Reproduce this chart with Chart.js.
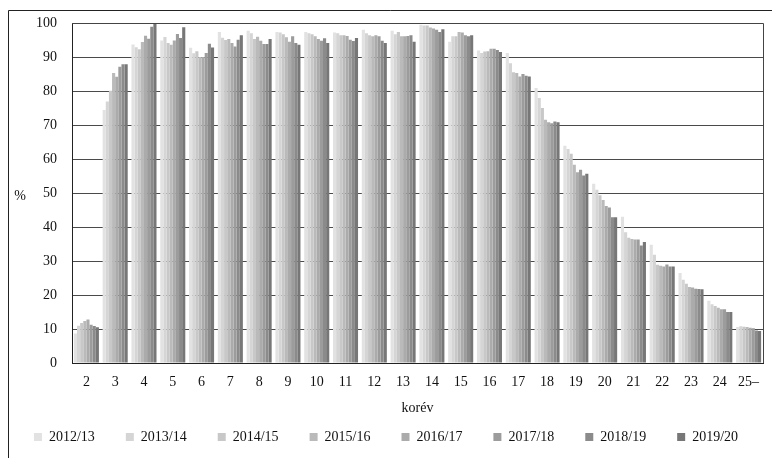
<!DOCTYPE html>
<html>
<head>
<meta charset="utf-8">
<script src="https://cdn.jsdelivr.net/npm/chart.js@4.4.1/dist/chart.umd.min.js"></script>
<style>
  html, body { margin: 0; padding: 0; background: #fff; }
  #wrap { width: 772px; height: 458px; position: relative; }
</style>
</head>
<body>
<div id="wrap"><canvas id="chart"></canvas></div>
<script>
// korév categories
const ageLabels = ['2', '3', '4', '5', '6', '7', '8', '9', '10', '11', '12', '13',
  '14', '15', '16', '17', '18', '19', '20', '21', '22', '23', '24', '25–'];

const yearLabels = ['2012/13', '2013/14', '2014/15', '2015/16', '2016/17', '2017/18', '2018/19', '2019/20'];

const y2012 = [8.7, 74.5, 93.8, 95.0, 92.8, 97.5, 97.8, 97.5, 97.5, 97.3, 98.1, 97.8, 99.6, 94.6, 92.0, 91.3, 81.0, 64.0, 52.8, 43.1, 34.8, 26.5, 18.3, 10.6];
const y2013 = [11.0, 77.0, 93.0, 96.0, 91.2, 95.8, 97.1, 97.3, 97.1, 97.1, 97.1, 96.8, 99.4, 96.2, 91.3, 88.3, 78.0, 63.0, 51.0, 38.5, 31.9, 24.5, 17.3, 10.8];
const y2014 = [11.8, 80.2, 92.4, 94.2, 91.8, 95.1, 95.4, 96.8, 96.8, 96.5, 96.5, 97.5, 99.4, 96.2, 91.7, 85.6, 75.1, 61.6, 49.4, 36.9, 28.9, 23.3, 16.8, 10.7];
const y2015 = [12.4, 85.4, 94.5, 93.7, 90.1, 95.4, 96.1, 95.9, 96.2, 96.5, 96.2, 96.2, 98.8, 97.5, 91.8, 85.4, 71.6, 58.4, 48.0, 36.5, 28.6, 22.4, 16.3, 10.6];
const y2016 = [12.8, 84.3, 96.4, 95.0, 90.1, 94.2, 94.9, 94.6, 95.4, 96.3, 96.5, 96.2, 98.5, 97.3, 92.5, 84.4, 70.9, 56.2, 46.2, 36.4, 28.4, 22.2, 15.8, 10.4];
const y2017 = [11.3, 87.2, 95.5, 96.9, 91.3, 93.2, 93.9, 96.2, 94.9, 95.2, 96.2, 96.3, 98.1, 96.5, 92.5, 85.1, 70.6, 56.9, 45.8, 36.4, 29.0, 21.9, 15.8, 10.2];
const y2018 = [10.9, 88.0, 99.0, 95.7, 94.0, 95.2, 93.9, 94.2, 95.6, 94.8, 94.9, 96.5, 97.5, 96.2, 92.2, 84.6, 71.1, 55.2, 42.9, 34.6, 28.4, 21.8, 15.0, 9.6];
const y2019 = [10.5, 88.0, 99.8, 98.9, 92.9, 96.5, 95.4, 93.7, 94.2, 95.7, 94.2, 94.6, 98.3, 96.5, 91.6, 84.4, 70.9, 55.7, 42.9, 35.6, 28.4, 21.7, 15.0, 9.4];

const yTicks = [0, 10, 20, 30, 40, 50, 60, 70, 80, 90, 100];

const grays = ['#e2e2e2', '#d5d5d5', '#c8c8c8', '#bababa', '#ababab', '#9c9c9c', '#8b8b8b', '#777777'];
const seriesValues = [y2012, y2013, y2014, y2015, y2016, y2017, y2018, y2019];

const serif = "'Liberation Serif', 'DejaVu Serif', serif";
const fontSize = 14;

// outer frame, plot box and the horizontal "%" label
const decorations = {
  id: 'decorations',
  beforeInit(chart) {
    // fixed legend height so the plot area lands where the original has it
    const legend = chart.legend;
    const origFit = legend.fit;
    legend.fit = function () {
      origFit.call(this);
      this.height = 59;
    };
  },
  afterDraw(chart) {
    const { ctx, chartArea } = chart;
    ctx.save();
    ctx.strokeStyle = '#222';
    ctx.lineWidth = 1;
    ctx.beginPath();
    ctx.moveTo(8.5, 458);
    ctx.lineTo(8.5, 10.5);
    ctx.lineTo(772, 10.5);
    ctx.stroke();

    ctx.strokeStyle = '#444';
    ctx.beginPath();
    ctx.moveTo(chartArea.left, Math.round(chartArea.top) + 0.5);
    ctx.lineTo(Math.round(chartArea.right) + 0.5, Math.round(chartArea.top) + 0.5);
    ctx.lineTo(Math.round(chartArea.right) + 0.5, chartArea.bottom);
    ctx.stroke();

    ctx.fillStyle = '#111';
    ctx.font = fontSize + 'px ' + serif;
    ctx.textAlign = 'center';
    ctx.textBaseline = 'middle';
    ctx.fillText('%', 20, (chartArea.top + chartArea.bottom) / 2 + 3);
    ctx.restore();
  }
};

new Chart(document.getElementById('chart'), {
  type: 'bar',
  data: {
    labels: ageLabels,
    datasets: yearLabels.map((name, i) => ({
      label: name,
      data: seriesValues[i],
      backgroundColor: grays[i],
      borderWidth: 0,
      categoryPercentage: 0.87,
      barPercentage: 1.0
    }))
  },
  options: {
    responsive: true,
    maintainAspectRatio: false,
    animation: false,
    devicePixelRatio: 1,
    layout: { padding: { top: 23, left: 0, right: 0, bottom: 0 } },
    plugins: {
      tooltip: { enabled: false },
      legend: {
        position: 'bottom',
        labels: {
          boxWidth: 8,
          boxHeight: 8,
          padding: 31,
          color: '#111',
          font: { family: serif, size: fontSize }
        }
      }
    },
    scales: {
      x: {
        grid: { display: false, drawTicks: false },
        border: { display: true, color: '#222', width: 1 },
        ticks: { padding: 11, color: '#111', font: { family: serif, size: fontSize }, maxRotation: 0, autoSkip: false },
        title: {
          display: true,
          text: 'korév',
          color: '#111',
          font: { family: serif, size: fontSize },
          padding: { top: 0, bottom: -18 }
        },
        afterFit(scale) { scale.height = 36; }
      },
      y: {
        min: 0,
        max: 100,
        afterBuildTicks(scale) { scale.ticks = yTicks.map(v => ({ value: v })); },
        grid: { color: '#4a4a4a', lineWidth: 1, drawTicks: false },
        border: { display: true, color: '#222', width: 1 },
        ticks: { padding: 15, color: '#111', font: { family: serif, size: fontSize } },
        afterFit(scale) { scale.width = 72; }
      },
      // empty spacer on the right so the plot ends where the original does
      yRight: {
        position: 'right',
        min: 0,
        max: 100,
        grid: { display: false, drawTicks: false },
        border: { display: false },
        ticks: { display: false },
        afterFit(scale) { scale.width = 9; }
      }
    }
  },
  plugins: [decorations]
});
</script>
</body>
</html>
